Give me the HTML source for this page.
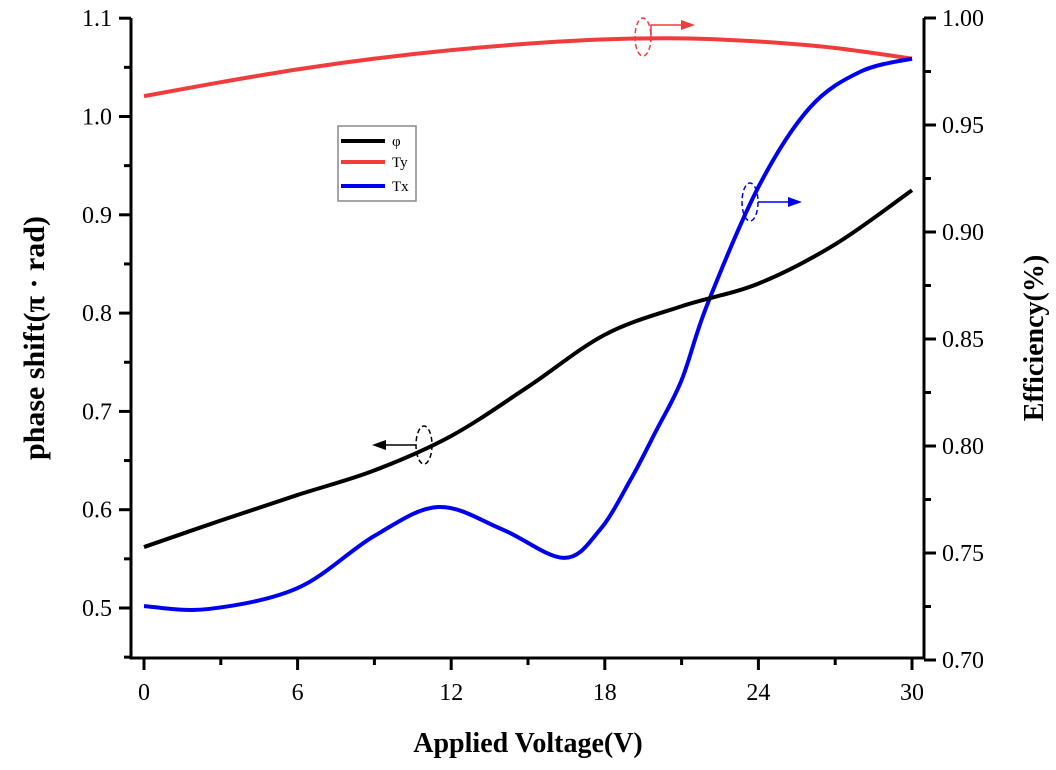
<!DOCTYPE html>
<html><head><meta charset="utf-8"><style>
body{margin:0;background:#fff}
svg text{font-family:"Liberation Serif",serif}
</style></head><body>
<svg id="c" width="1056" height="765"></svg>
<script>
const volts=[0,3,6,9,12,15,18,21,24,27,30];
const phiVals=[0.562,0.589,0.615,0.640,0.675,0.725,0.778,0.807,0.830,0.870,0.925];
const tyVals=[0.9635,0.970,0.976,0.981,0.985,0.988,0.990,0.9905,0.989,0.986,0.981];
const txVolts=[0,2.5,6,9,11.5,14,16.4,17.8,19,20,21,22,24,26,28,30];
const txVals=[0.7252,0.7238,0.7336,0.758,0.7715,0.761,0.7477,0.7607,0.7841,0.807,0.8308,0.866,0.921,0.958,0.975,0.981];
const xTicks=[0,6,12,18,24,30];
const yLTicks=[0.5,0.6,0.7,0.8,0.9,1.0,1.1];
const yRTicks=[0.70,0.75,0.80,0.85,0.90,0.95,1.00];
const NS="http://www.w3.org/2000/svg",svg=document.getElementById('c');
const L=131,R=924,T=18,B=658;
const xs=v=>144+v*25.6, yl=v=>608-(v-0.5)*983, yr=v=>660-(v-0.7)*2140;
function mk(t,a,p){const e=document.createElementNS(NS,t);for(const k in a)e.setAttribute(k,a[k]);(p||svg).appendChild(e);return e;}
function curve(xa,ya,fx,fy){const P=xa.map((x,i)=>[fx(x),fy(ya[i])]);let d=`M${P[0][0]},${P[0][1]}`;
for(let i=0;i<P.length-1;i++){const p0=P[Math.max(0,i-1)],p1=P[i],p2=P[i+1],p3=P[Math.min(P.length-1,i+2)];
d+=` C${p1[0]+(p2[0]-p0[0])/6},${p1[1]+(p2[1]-p0[1])/6} ${p2[0]-(p3[0]-p1[0])/6},${p2[1]-(p3[1]-p1[1])/6} ${p2[0]},${p2[1]}`;}return d;}
let e=mk('path',{d:`M${L},${T}V${B}H${R}V${T}`,fill:'none',stroke:'#000','stroke-width':3});

for(let v=0;v<=30;v+=3){const maj=v%6==0;e=mk('line',{x1:xs(v),x2:xs(v),y1:B,y2:B+(maj?12:7),stroke:'#000','stroke-width':3});
}
xTicks.forEach(v=>{e=mk('text',{x:xs(v),y:700,'font-size':24,'text-anchor':'middle'});e.textContent=v;
});
for(let v=0.45;v<=1.101;v+=0.05){const maj=Math.abs(v*10-Math.round(v*10))<0.01;const y=yl(v);if(y>B)continue;
e=mk('line',{x1:L,x2:L-(maj?12:7),y1:y,y2:y,stroke:'#000','stroke-width':3});
}
yLTicks.forEach(v=>{e=mk('text',{x:112,y:yl(v)+8,'font-size':24,'text-anchor':'end'});e.textContent=v.toFixed(1);
});
for(let v=0.70;v<=1.0001;v+=0.025){const maj=Math.abs(v*20-Math.round(v*20))<0.01;const y=yr(v);
e=mk('line',{x1:R,x2:R+(maj?12:7),y1:y,y2:y,stroke:'#000','stroke-width':3});
}
yRTicks.forEach(v=>{e=mk('text',{x:942,y:yr(v)+8,'font-size':24});e.textContent=v.toFixed(2);
});
e=mk('text',{x:528,y:752,'font-size':28,'font-weight':'bold','text-anchor':'middle'});e.textContent='Applied Voltage(V)';

e=mk('text',{x:0,y:0,'font-size':30,'font-weight':'bold','text-anchor':'middle',transform:'translate(44,338) rotate(-90)'});e.textContent='phase shift(π · rad)';

e=mk('text',{x:0,y:0,'font-size':28,'font-weight':'bold','text-anchor':'middle',transform:'translate(1043,338) rotate(-90)'});e.textContent='Efficiency(%)';

e=mk('path',{d:curve(volts,tyVals,xs,yr),fill:'none',stroke:'#f03c3c','stroke-width':4});

e=mk('path',{d:curve(txVolts,txVals,xs,yr),fill:'none',stroke:'#0000f0','stroke-width':4});

e=mk('path',{d:curve(volts,phiVals,xs,yl),fill:'none',stroke:'#000','stroke-width':4});

function ann(cx,cy,col,dir,name,step){const g=mk('g',{});
mk('ellipse',{cx:cx,cy:cy,rx:8,ry:19,fill:'none',stroke:col,'stroke-width':1.5,'stroke-dasharray':'5,3'},g);
const x2=cx+dir*52;const sx=cx+dir*8;const ay=cy-(step||0);
mk('path',{d:`M${sx},${cy} L${sx},${ay} L${x2-dir*10},${ay}`,fill:'none',stroke:col,'stroke-width':1.5},g);
mk('path',{d:`M${x2},${ay} L${x2-dir*14},${ay-5} L${x2-dir*14},${ay+5}Z`,fill:col},g);}
ann(424,445,'#000',-1,'phi-annotation',0);
ann(643,37,'#f03c3c',1,'ty-annotation',12);
ann(750,202,'#0000f0',1,'tx-annotation',0);
const lg=mk('g',{});
mk('rect',{x:338,y:126,width:78,height:75,fill:'#fff',stroke:'#888','stroke-width':1.5},lg);
[['φ','#000',141],['Ty','#f03c3c',162],['Tx','#0000f0',186]].forEach(([t,c,y])=>{
const it=mk('g',{},lg);
mk('line',{x1:341,x2:385,y1:y,y2:y,stroke:c,'stroke-width':4},it);
const tx=mk('text',{x:392,y:y+5,'font-size':15},it);tx.textContent=t;});
</script>
</body></html>
